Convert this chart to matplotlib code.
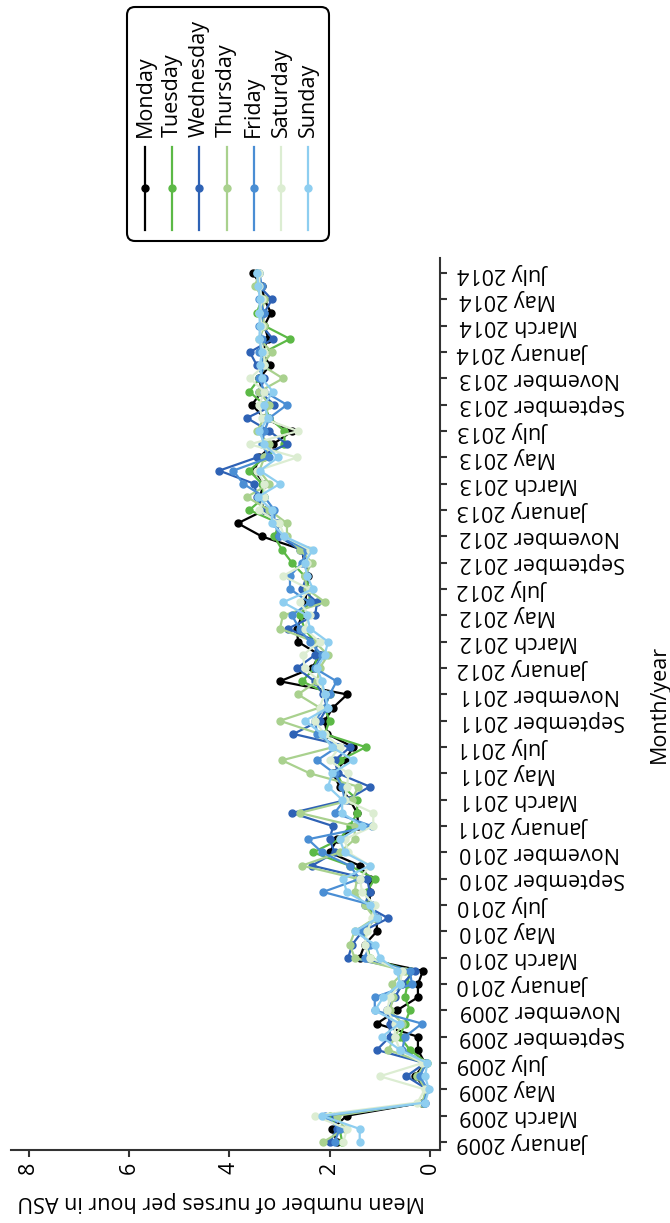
import matplotlib
matplotlib.use("Agg")
import matplotlib.pyplot as plt
from matplotlib.lines import Line2D
from matplotlib.patches import FancyBboxPatch

plt.rcParams['font.family'] = ['Open Sans', 'DejaVu Sans']

# Mean number of nurses per hour, Jan 2009 .. Jul 2014 (67 months)
days = ["Monday", "Tuesday", "Wednesday", "Thursday", "Friday", "Saturday", "Sunday"]
colors = ["#000000", "#5cb946", "#2e62b5", "#a9d18e", "#4a8ed4", "#dcedd2", "#8ecef0"]

monday = [1.85, 1.95, 1.66, 0.15, 0.05, 0.30, 0.10, 0.24, 0.24, 1.06, 0.66, 0.24, 0.24, 0.14,
          1.40, 1.30, 1.06, 1.06, 1.20, 1.20, 1.20, 1.40, 2.00, 1.85, 1.43, 1.45, 1.60, 1.80,
          1.93, 1.69, 1.53, 2.05, 2.10, 1.93, 1.65, 2.99, 2.35, 2.20, 2.63, 2.65, 2.55, 2.49,
          2.45, 2.43, 2.50, 2.55, 3.35, 3.83, 3.30, 3.40, 3.30, 3.50, 3.40, 3.13, 2.75, 3.30,
          3.55, 3.35, 3.40, 3.19, 3.35, 3.22, 3.30, 3.17, 3.30, 3.35, 3.53]
tuesday = [1.75, 1.80, 2.00, 0.12, 0.05, 0.25, 0.05, 0.40, 0.60, 0.50, 0.40, 0.50, 0.45, 0.40,
           1.20, 1.25, 1.30, 1.10, 1.25, 1.26, 1.10, 1.60, 2.33, 1.80, 1.60, 1.45, 1.45, 1.73,
           1.85, 1.79, 1.28, 2.10, 2.00, 2.10, 2.00, 2.55, 2.30, 2.25, 2.30, 2.50, 2.59, 2.40,
           2.40, 2.50, 2.75, 2.95, 3.10, 3.00, 3.60, 3.30, 3.35, 3.60, 3.30, 2.90, 2.90, 3.20,
           3.30, 3.60, 3.40, 3.30, 3.30, 2.79, 3.30, 3.45, 3.35, 3.40, 3.45]
wednesday = [2.00, 1.85, 1.90, 0.10, 0.05, 0.47, 0.10, 1.06, 0.80, 0.80, 0.85, 0.70, 0.55, 0.30,
             1.63, 1.55, 1.35, 0.83, 1.30, 1.20, 1.25, 2.35, 1.90, 2.00, 1.93, 2.75, 1.65, 1.20,
             1.83, 1.90, 1.59, 2.72, 2.20, 2.05, 2.13, 2.30, 2.65, 2.29, 2.25, 2.83, 2.29, 2.25,
             2.55, 2.45, 2.43, 2.60, 3.00, 3.05, 3.30, 3.45, 3.50, 4.20, 3.45, 2.85, 3.20, 3.65,
             3.10, 3.40, 3.30, 3.45, 3.59, 3.13, 3.35, 3.30, 3.15, 3.40, 3.45]
thursday = [2.13, 1.70, 1.85, 0.15, 0.08, 0.25, 0.10, 0.83, 0.70, 0.55, 0.80, 0.73, 0.76, 0.50,
            1.50, 1.60, 1.50, 1.10, 1.30, 1.50, 1.45, 2.55, 1.80, 1.50, 1.50, 2.60, 1.55, 1.43,
            2.39, 2.95, 1.93, 2.20, 2.99, 2.20, 2.63, 2.25, 2.20, 2.03, 2.30, 2.99, 2.93, 2.09,
            2.45, 2.50, 2.35, 2.59, 2.85, 2.85, 3.20, 3.65, 3.20, 3.40, 3.30, 3.20, 3.45, 3.30,
            3.20, 3.40, 2.93, 3.35, 3.15, 3.40, 3.30, 3.35, 3.30, 3.49, 3.40]
friday = [1.90, 1.80, 2.10, 0.12, 0.05, 0.20, 0.08, 0.55, 0.50, 0.16, 1.10, 1.10, 0.36, 0.40,
          1.30, 1.20, 1.40, 1.05, 1.15, 2.13, 1.40, 1.60, 2.15, 2.43, 1.16, 1.90, 1.70, 1.75,
          1.90, 2.25, 1.85, 2.25, 2.29, 2.10, 2.00, 1.86, 2.30, 2.15, 2.40, 2.60, 2.75, 2.40,
          2.79, 2.79, 2.55, 2.45, 3.00, 3.10, 3.10, 3.30, 3.72, 3.92, 3.20, 3.35, 3.30, 3.20,
          2.85, 3.30, 3.40, 3.30, 3.40, 3.35, 3.40, 3.30, 3.40, 3.35, 3.40]
saturday = [1.73, 1.65, 2.30, 0.25, 0.10, 1.00, 0.15, 0.60, 0.70, 0.70, 0.85, 0.80, 0.60, 0.55,
            1.20, 1.30, 1.25, 1.15, 1.10, 1.35, 1.40, 1.20, 1.63, 1.70, 1.13, 1.13, 1.70, 1.65,
            1.63, 2.00, 1.80, 2.10, 2.30, 2.20, 2.10, 2.20, 2.50, 2.53, 2.20, 2.50, 2.40, 2.60,
            2.40, 2.93, 2.45, 2.40, 2.90, 3.00, 3.40, 3.30, 3.30, 3.45, 2.65, 3.59, 2.63, 3.35,
            3.40, 3.30, 3.59, 3.30, 3.30, 3.40, 3.35, 3.40, 3.35, 3.40, 3.40]
sunday = [1.40, 1.40, 2.15, 0.10, 0.02, 0.10, 0.05, 0.60, 0.96, 0.60, 1.10, 0.93, 0.60, 0.65,
          1.00, 1.10, 1.50, 1.05, 1.20, 1.66, 1.73, 1.20, 1.70, 1.80, 1.35, 1.75, 1.75, 2.03,
          1.95, 1.53, 1.95, 2.15, 2.49, 2.03, 2.10, 2.15, 2.25, 2.10, 2.03, 2.39, 2.45, 2.93,
          2.33, 2.45, 2.50, 2.33, 2.90, 3.15, 3.15, 3.43, 2.99, 3.39, 3.03, 3.30, 3.40, 3.23,
          3.30, 3.13, 3.35, 3.39, 3.35, 3.40, 3.39, 3.40, 3.39, 3.42, 3.45]

series = [monday, tuesday, wednesday, thursday, friday, saturday, sunday]
months = list(range(len(monday)))

tick_months = ["January", "March", "May", "July", "September", "November"]
tick_years = [2009, 2010, 2011, 2012, 2013, 2014]
tick_labels = [f"{m} {y}" for y in tick_years for m in tick_months][:34]
value_ticks = [0, 2, 4, 6, 8]

FS = 15.5
spine_c = "#333333"

fig = plt.figure(figsize=(6.7, 12.23), dpi=100)
ax = fig.add_axes([11 / 670, 73 / 1223, 429 / 670, 892 / 1223])

for vals, c in zip(series, colors):
    ax.plot(vals, months, color=c, lw=1.6, marker='o', ms=5)

ax.set_xlim(8.35, -0.2)
ax.set_ylim(-0.6, 67.15)
ax.spines['top'].set_visible(False)
ax.spines['left'].set_visible(False)
for s in ['bottom', 'right']:
    ax.spines[s].set_color(spine_c)
    ax.spines[s].set_linewidth(1.5)

ax.yaxis.tick_right()
ax.set_yticks(months[::2])
ax.set_yticklabels(tick_labels, rotation=180, fontsize=FS, va='center')
ax.set_xticks(value_ticks)
ax.set_xticklabels([str(v) for v in value_ticks], rotation=90, fontsize=FS)
ax.tick_params(length=5, width=1.5, color=spine_c)
ax.tick_params(axis='y', pad=9)

ax.set_xlabel("Mean number of nurses per hour in ASU", rotation=180, fontsize=FS)
ax.xaxis.set_label_coords(0.49, -0.046)
ax.yaxis.set_label_position('right')
ax.set_ylabel("Month/year", rotation=90, fontsize=FS)
ax.yaxis.set_label_coords(1.487, 0.5)

# legend drawn by hand: entries side by side, text turned upright
T = fig.dpi_scale_trans
H = 12.23
box = FancyBboxPatch((1.27, H - 2.41), 2.02, 2.34,
                     boxstyle="round,pad=0,rounding_size=0.08",
                     transform=T, fc="white", ec="black", lw=1.5)
fig.add_artist(box)
for k, (d, c) in enumerate(zip(days, colors)):
    x = 1.45 + k * 0.272
    fig.add_artist(Line2D([x, x], [H - 1.47, H - 2.30], transform=T, color=c, lw=1.6))
    fig.add_artist(Line2D([x], [H - 1.88], transform=T, color=c, marker='o', ms=5))
    fig.text(x, H - 1.37, d, transform=T, rotation=90, ha='center', va='bottom', fontsize=FS)

fig.savefig("out.png", dpi=100)
